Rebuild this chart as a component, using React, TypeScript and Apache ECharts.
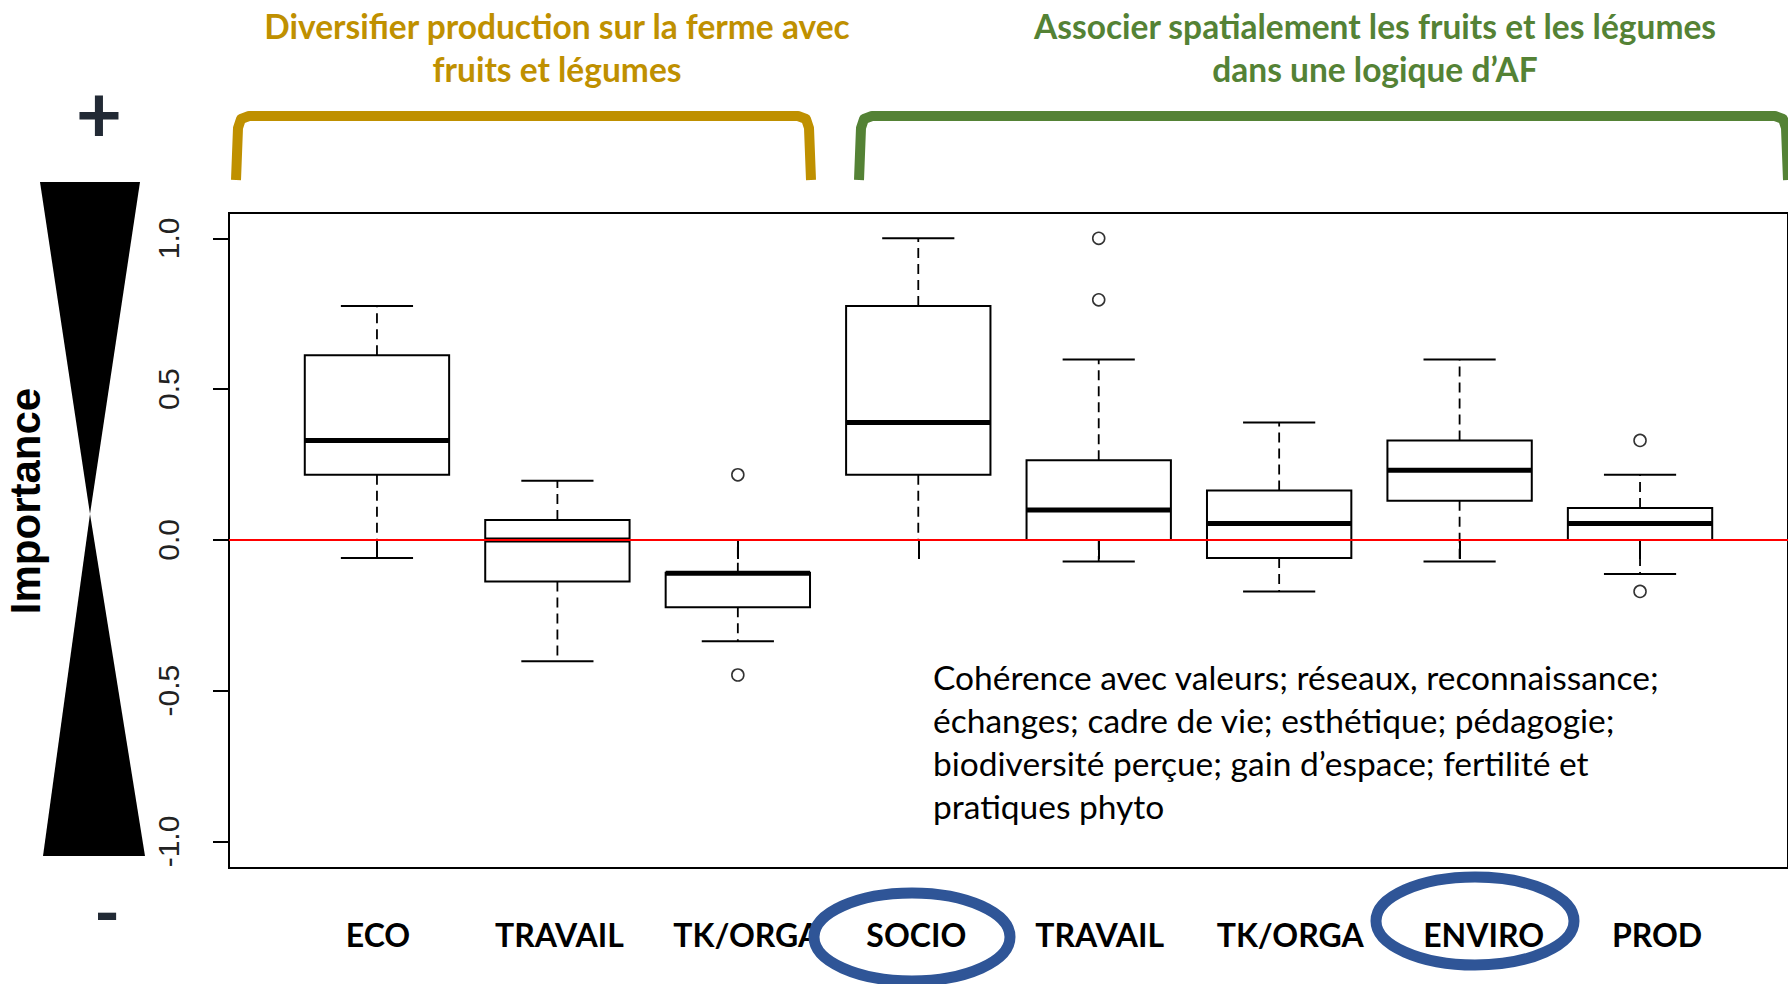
import React, { useEffect, useRef } from "react";
import * as echarts from "echarts";

// ---- Data ----
const categories = ["ECO", "TRAVAIL", "TK/ORGA", "SOCIO", "TRAVAIL", "TK/ORGA", "ENVIRO", "PROD"];
const whiskerLow = [-0.06, -0.402, -0.336, 0.0, -0.072, -0.171, -0.072, -0.113];
const quartile1 = [0.216, -0.138, -0.223, 0.216, 0.0, -0.06, 0.13, 0.0];
const medians = [0.33, 0.0, -0.111, 0.389, 0.099, 0.054, 0.231, 0.054];
const quartile3 = [0.612, 0.066, -0.109, 0.776, 0.264, 0.164, 0.33, 0.106];
const whiskerHigh = [0.776, 0.196, 0.0, 1.0, 0.598, 0.389, 0.598, 0.216];
const outlierPos = [3, 3, 5, 5, 8, 8];
const outlierVal = [0.216, -0.448, 1.0, 0.796, 0.33, -0.171];
const yTicks = [-1, -0.5, 0, 0.5, 1];
const xTicks = [1, 2, 3, 4, 5, 6, 7, 8];

const titleLeft = ["Diversifier production sur la ferme avec", "fruits et légumes"];
const titleRight = ["Associer spatialement les fruits et les légumes", "dans une logique d\u2019AF"];
const noteLines = [
  "Cohérence avec valeurs; réseaux, reconnaissance;",
  "échanges; cadre de vie; esthétique; pédagogie;",
  "biodiversité perçue; gain d\u2019espace; fertilité et",
  "pratiques phyto",
];

const GOLD = "#BF9000";
const GREEN = "#548235";
const BLUE = "#2F5597";
const DARK = "#222A35";

// small horizontal nudges of the category labels (as placed in the reference)
const labelShift = [1, 2, 9, -2, 1, 11, 24, 17];

export default function App() {
  const ref = useRef<HTMLDivElement>(null);

  useEffect(() => {
    if (!ref.current) return;
    const chart = echarts.init(ref.current, undefined, { renderer: "svg" });

    const boxData = categories.map((_, i) => [
      i + 1,
      whiskerLow[i],
      quartile1[i],
      medians[i],
      quartile3[i],
      whiskerHigh[i],
    ]);
    const outlierData = outlierPos.map((x, i) => [x, outlierVal[i]]);

    const renderBox = (params: any, api: any) => {
      const x = api.value(0);
      const lo = api.coord([x, api.value(1)]);
      const q1 = api.coord([x, api.value(2)]);
      const md = api.coord([x, api.value(3)]);
      const q3 = api.coord([x, api.value(4)]);
      const hi = api.coord([x, api.value(5)]);
      const half = api.size([0.8, 0])[0] / 2;
      const capHalf = api.size([0.4, 0])[0] / 2;
      const cx = lo[0];
      const lineStyle = { stroke: "#000", lineWidth: 2 };
      const dashStyle = { stroke: "#000", lineWidth: 1.8, lineDash: [10, 6] };
      return {
        type: "group",
        children: [
          { type: "line", shape: { x1: cx, y1: q3[1], x2: cx, y2: hi[1] }, style: dashStyle },
          { type: "line", shape: { x1: cx, y1: q1[1], x2: cx, y2: lo[1] }, style: dashStyle },
          { type: "line", shape: { x1: cx - capHalf, y1: hi[1], x2: cx + capHalf, y2: hi[1] }, style: lineStyle },
          { type: "line", shape: { x1: cx - capHalf, y1: lo[1], x2: cx + capHalf, y2: lo[1] }, style: lineStyle },
          {
            type: "rect",
            shape: { x: cx - half, y: q3[1], width: half * 2, height: q1[1] - q3[1] },
            style: { fill: "#fff", stroke: "#000", lineWidth: 2 },
          },
          {
            type: "line",
            shape: { x1: cx - half, y1: md[1], x2: cx + half, y2: md[1] },
            style: { stroke: "#000", lineWidth: 5 },
          },
        ],
      };
    };

    const bracket = (x0: number, x1: number, color: string) => ({
      type: "polyline",
      shape: {
        points: [
          [x0 - 2, 180],
          [x0, 128],
          [x0 + 3, 119],
          [x0 + 11, 116],
          [x1 - 11, 116],
          [x1 - 3, 119],
          [x1, 128],
          [x1 + 2, 180],
        ],
      },
      style: { stroke: color, lineWidth: 10, fill: "none", lineJoin: "round" },
      z: 10,
    });

    const rich: Record<string, any> = {};
    labelShift.forEach((s, i) => {
      rich["c" + i] = {
        fontFamily: "Lato",
        fontWeight: "bold",
        fontSize: 32,
        color: "#000",
        padding: s >= 0 ? [0, 0, 0, 2 * s] : [0, -2 * s, 0, 0],
      };
    });

    chart.setOption({
      animation: false,
      backgroundColor: "#fff",
      grid: {
        left: 229,
        top: 213,
        width: 1565,
        height: 655,
        show: true,
        borderColor: "#000",
        borderWidth: 2,
        backgroundColor: "transparent",
      },
      xAxis: {
        type: "value",
        min: 0.18,
        max: 8.82,
        splitLine: { show: false },
        axisLine: { show: true, lineStyle: { color: "#000", width: 2 } },
        axisTick: {
          show: true,
          customValues: xTicks,
          length: 19,
          lineStyle: { color: "#000", width: 2 },
        },
        axisLabel: {
          customValues: xTicks,
          margin: 50,
          fontFamily: "Lato",
          fontWeight: "bold",
          fontSize: 32,
          color: "#000",
          formatter: (v: number) => {
            const i = Math.round(v) - 1;
            return categories[i] !== undefined ? `{c${i}|${categories[i]}}` : "";
          },
          rich,
        },
      },
      yAxis: {
        type: "value",
        min: -1.088,
        max: 1.084,
        splitLine: { show: false },
        axisLine: { show: true, lineStyle: { color: "#000", width: 2 } },
        axisTick: {
          show: true,
          customValues: yTicks,
          length: 16,
          lineStyle: { color: "#000", width: 2 },
        },
        axisLabel: {
          customValues: yTicks,
          rotate: 90,
          margin: 46,
          fontFamily: "Liberation Sans",
          fontSize: 30,
          color: "#222",
          formatter: (v: number) => v.toFixed(1),
        },
      },
      series: [
        {
          type: "custom",
          renderItem: renderBox,
          data: boxData,
          encode: { x: 0, y: [1, 2, 3, 4, 5] },
          z: 2,
          silent: true,
        },
        {
          type: "scatter",
          data: outlierData,
          symbol: "circle",
          symbolSize: 12,
          itemStyle: { color: "#fff", borderColor: "#000", borderWidth: 1.6 },
          z: 5,
          silent: true,
          markLine: {
            silent: true,
            symbol: "none",
            label: { show: false },
            lineStyle: { color: "#FF0000", type: "solid", width: 2 },
            data: [{ yAxis: 0 }],
          },
        },
      ],
      graphic: [
        // hourglass importance scale
        { type: "polygon", shape: { points: [[40, 182], [140, 182], [90, 514]] }, style: { fill: "#000" } },
        { type: "polygon", shape: { points: [[90, 514], [43, 856], [145, 856]] }, style: { fill: "#000" } },
        {
          type: "text",
          x: 25,
          y: 501,
          rotation: Math.PI / 2,
          style: {
            text: "Importance",
            fontFamily: "Liberation Sans",
            fontWeight: "bold",
            fontSize: 42,
            fill: "#000",
            align: "center",
            verticalAlign: "middle",
          },
        },
        {
          type: "text",
          x: 99,
          y: 112,
          style: { text: "+", fontFamily: "Lato", fontWeight: "bold", fontSize: 80, fill: DARK, align: "center", verticalAlign: "middle" },
        },
        {
          type: "text",
          x: 107,
          y: 911,
          style: { text: "-", fontFamily: "Lato", fontWeight: "bold", fontSize: 70, fill: DARK, align: "center", verticalAlign: "middle" },
        },
        // group titles
        {
          type: "text",
          x: 557,
          y: 47,
          style: { text: titleLeft.join("\n"), lineHeight: 43, fontFamily: "Lato", fontWeight: "bold", fontSize: 33.5, fill: GOLD, align: "center", verticalAlign: "middle" },
        },
        {
          type: "text",
          x: 1375,
          y: 47,
          style: { text: titleRight.join("\n"), lineHeight: 43, fontFamily: "Lato", fontWeight: "bold", fontSize: 33.5, fill: GREEN, align: "center", verticalAlign: "middle" },
        },
        bracket(238, 809, GOLD),
        bracket(861, 1786, GREEN),
        // annotation
        {
          type: "text",
          x: 933,
          y: 741,
          style: { text: noteLines.join("\n"), lineHeight: 43, fontFamily: "Lato", fontSize: 33.5, fill: "#000", align: "left", verticalAlign: "middle" },
          z: 10,
        },
        // highlight ellipses
        { type: "ellipse", shape: { cx: 912, cy: 937, rx: 98, ry: 44 }, style: { fill: "none", stroke: BLUE, lineWidth: 11 }, z: 20 },
        { type: "ellipse", shape: { cx: 1475, cy: 921, rx: 99, ry: 44 }, style: { fill: "none", stroke: BLUE, lineWidth: 11 }, z: 20 },
      ],
    });

    return () => chart.dispose();
  }, []);

  return <div ref={ref} style={{ position: "absolute", left: 0, top: 0, width: 1788, height: 984 }} />;
}
